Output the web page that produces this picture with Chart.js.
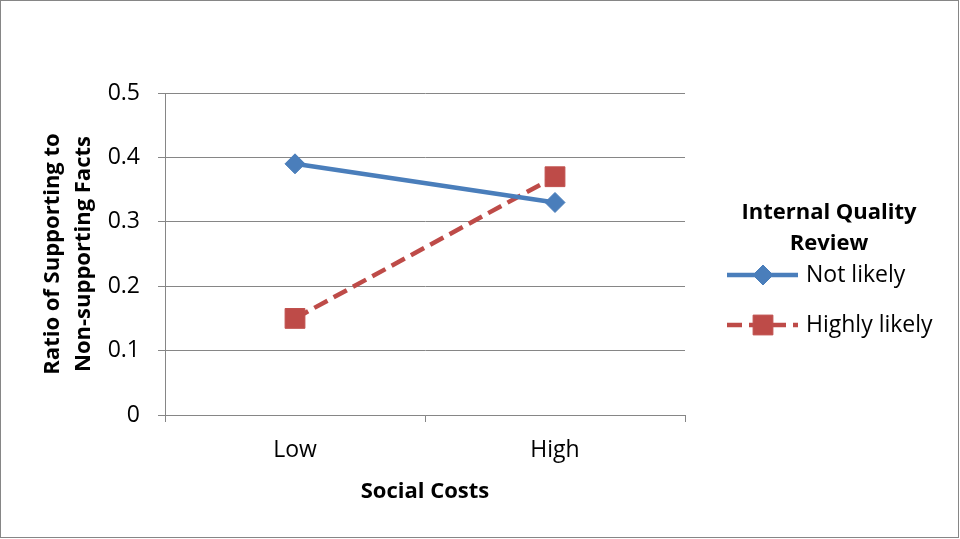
<!DOCTYPE html>
<html>
<head>
<meta charset="utf-8">
<script src="https://cdn.jsdelivr.net/npm/chart.js@4.4.0/dist/chart.umd.min.js"></script>
<style>
  html, body { margin: 0; padding: 0; background: #fff; }
  #lineChart { display: block; }
</style>
</head>
<body>
<canvas id="lineChart" width="960" height="539"></canvas>
<script>
// data
const categories = ['Low', 'High'];
const notLikely = [0.39, 0.33];
const highlyLikely = [0.15, 0.37];
const seriesNames = ['Not likely', 'Highly likely'];
const yTickLabels = ['0', '0.1', '0.2', '0.3', '0.4', '0.5'];
const legendTitle = ['Internal Quality', 'Review'];

const FONT = "'Open Sans', Lato, sans-serif";
const FS = 23;   // regular text
const FB = 22;   // bold titles
const GRID = '#868686';

// white background + thin frame round the whole chart
const frame = {
  id: 'frame',
  beforeDraw(chart) {
    const ctx = chart.ctx;
    ctx.save();
    ctx.fillStyle = '#fff';
    ctx.fillRect(0, 0, chart.width, chart.height);
    ctx.strokeStyle = GRID;
    ctx.lineWidth = 1;
    ctx.strokeRect(0.5, 0.5, chart.width - 2, chart.height - 2);
    ctx.restore();
  }
};

// Excel style legend on the right, drawn from the dataset styles
const sideLegend = {
  id: 'sideLegend',
  afterDraw(chart) {
    const ctx = chart.ctx;
    ctx.save();
    ctx.fillStyle = '#000';
    ctx.textAlign = 'center';
    ctx.textBaseline = 'middle';
    ctx.font = 'bold ' + FB + 'px ' + FONT;
    legendTitle.forEach((t, i) => ctx.fillText(t, 829, 213 + i * 31));

    const rows = [275, 325];
    chart.data.datasets.forEach((ds, i) => {
      const y = rows[i];
      ctx.save();
      ctx.strokeStyle = ds.borderColor;
      ctx.lineWidth = ds.borderWidth;
      ctx.setLineDash(ds.borderDash || []);
      ctx.beginPath();
      ctx.moveTo(727, y);
      ctx.lineTo(798, y);
      ctx.stroke();
      ctx.restore();
      ctx.fillStyle = ds.pointBackgroundColor;
      ctx.strokeStyle = ds.pointBorderColor;
      ctx.lineWidth = 1;
      Chart.helpers.drawPoint(ctx, {
        pointStyle: ds.pointStyle, radius: ds.pointRadius, rotation: 0, borderWidth: 1
      }, 763, y);
      ctx.fillStyle = '#000';
      ctx.textAlign = 'left';
      ctx.font = FS + 'px ' + FONT;
      ctx.fillText(ds.label, 806, y);
    });
    ctx.restore();
  }
};

const ctx = document.getElementById('lineChart').getContext('2d');
new Chart(ctx, {
  type: 'line',
  data: {
    labels: categories,
    datasets: [{
      label: seriesNames[0],
      data: notLikely,
      borderColor: '#4A7EBB',
      borderWidth: 4.5,
      pointStyle: 'rectRot',
      pointRadius: 10,
      pointBackgroundColor: '#4A7EBB',
      pointBorderColor: '#4A7EBB',
      pointBorderWidth: 1
    }, {
      label: seriesNames[1],
      data: highlyLikely,
      borderColor: '#BE4B48',
      borderWidth: 4.5,
      borderDash: [15, 7],
      pointStyle: 'rect',
      pointRadius: 14,
      pointBackgroundColor: '#BE4B48',
      pointBorderColor: '#C0504D',
      pointBorderWidth: 1
    }]
  },
  options: {
    responsive: false,
    animation: false,
    layout: { padding: { left: 0, top: 93, right: 275, bottom: 0 } },
    plugins: { legend: { display: false }, tooltip: { enabled: false } },
    elements: { line: { tension: 0 } },
    scales: {
      x: {
        offset: true,
        afterFit(scale) { scale.height = 124; },
        grid: { offset: true, drawOnChartArea: false, color: GRID, tickLength: 7, tickColor: GRID },
        border: { color: GRID },
        ticks: { color: '#000', padding: 15, font: { family: FONT, size: FS } },
        title: {
          display: true, text: 'Social Costs', color: '#000',
          font: { family: FONT, size: FB, weight: 'bold' },
          padding: { top: 0, bottom: 34 }
        }
      },
      y: {
        min: 0, max: 0.5,
        afterFit(scale) { scale.width = 165; },
        grid: { color: GRID, tickLength: 7, tickColor: GRID },
        border: { color: GRID },
        ticks: {
          stepSize: 0.1, color: '#000', padding: 18,
          font: { family: FONT, size: FS },
          callback: (v, i) => yTickLabels[i]
        },
        title: {
          display: true, text: ['Ratio of Supporting to', 'Non-supporting Facts'], color: '#000',
          font: { family: FONT, size: FB, weight: 'bold', lineHeight: '31px' },
          padding: { top: 37, bottom: 0 }
        }
      }
    }
  },
  plugins: [frame, sideLegend]
});
</script>
</body>
</html>
